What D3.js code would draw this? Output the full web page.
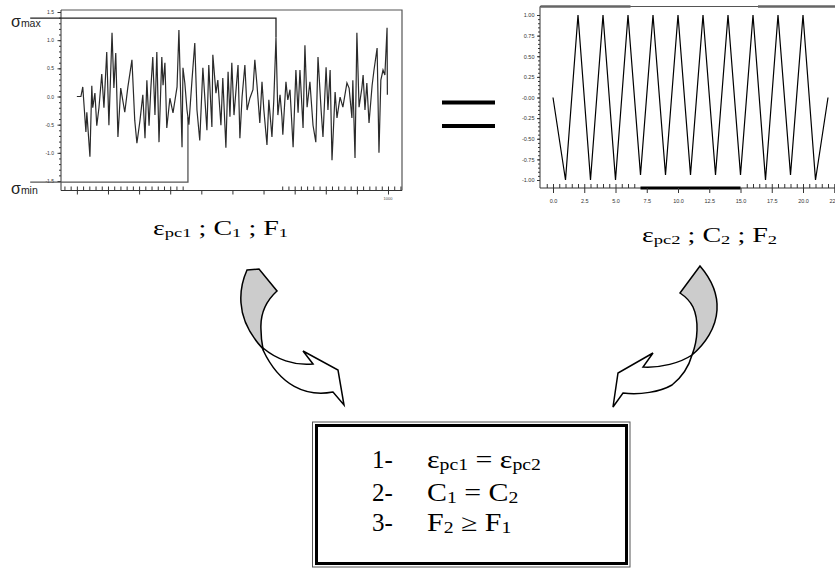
<!DOCTYPE html>
<html>
<head>
<meta charset="utf-8">
<script src="https://cdn.jsdelivr.net/npm/d3@7"></script>
<style>
body { margin: 0; background: #fff; }
svg { display: block; }
.tick text { font-family: "Liberation Sans", Arial, sans-serif; fill: #333; }
.tick line { stroke: #333; }
text { white-space: pre; }
</style>
</head>
<body>
<div id="chart"></div>
<script>
// random load history (left chart) : reversal position / stress
var loadX = [0, 13, 19, 29, 32, 42, 48, 51, 58, 64, 71, 80, 87, 96, 103, 113, 119, 125, 132, 141,
  154, 164, 177, 186, 193, 203, 212, 219, 225, 232, 238, 244, 251, 257, 264, 273, 277, 283, 289, 299,
  309, 322, 328, 338, 341, 347, 354, 360, 370, 379, 386, 395, 405, 418, 424, 434, 437, 447, 453, 463,
  469, 479, 486, 492, 498, 505, 518, 524, 531, 540, 547, 556, 566, 572, 579, 588, 595, 601, 611, 617,
  627, 633, 640, 646, 653, 659, 662, 672, 678, 685, 695, 704, 711, 717, 727, 733, 740, 749, 759, 768,
  775, 785, 791, 801, 807, 814, 820, 830, 836, 846, 855, 868, 875, 884, 887, 894, 900, 907, 916, 920,
  926, 932, 939, 949, 955, 965, 971, 977, 984, 990, 997, 998];
var loadY = [0, 0, 0.17, -0.63, -0.28, -1.07, 0.19, -0.2, 0.06, -0.52, -0.2, 0.4, -0.2, 0.79, -0.51, 1.13, 0.15, 0.77, -0.72, 0.15,
  -0.28, 0.17, 0.65, -0.42, -0.83, -0.42, 0.03, -0.74, 0.29, -0.52, 0.17, 0.7, -0.33, 0.79, -0.81, 0.7, 0.2, 0.6, -0.56, -0.03,
  -0.29, 0.17, 1.18, -0.9, 0.51, 0.24, -0.24, -0.5, 0.29, 0.95, -0.24, -0.78, 0.51, -0.6, 0.56, -0.54, 0.74, 0.06, 0.29, -0.51,
  0.33, -0.91, 0.44, -0.36, 0.6, -0.33, 0.56, -0.74, -0.01, 0.56, -0.24, -0.03, 0.12, 0.65, 0.2, -0.47, 0.26, -0.24, -0.86, -0.06,
  -0.72, -0.06, 1.05, -0.33, 0.03, -0.36, -0.68, 0.26, -0.06, 0.12, -0.9, 0.47, -0.29, 0.47, -0.56, 0.91, -0.19, 0.26, -0.51, -0.81,
  0.7, -0.24, -0.72, 0.52, -0.24, 0.47, -1.13, 0.08, -0.38, -0.01, -0.19, 0.24, 0.15, -0.38, 0.29, -1.09, 1.13, -0.19, 0.15, 0.38,
  -0.24, 0.24, -0.47, 0.2, 0.47, 0.86, -1.0, 0.29, 0.47, 0.38, 1.22, 0.03];
var sigmaMax = 1.39, sigmaMin = -1.52;
var sigmaStartX = -150;
var maxJoin = [640, 1.05];   // where the sigma max line meets the signal
var minJoin = [357, -0.37];
var leftYTicks = [1.5, 1.0, 0.5, 0.0, -0.5, -1.0, -1.5];
var leftYLabels = ["1.5", "1.0", "0.5", "0.0", "-0.5", "-1.0", "-1.5"];
var leftXTicks = [0, 100, 200, 300, 400, 500, 600, 700, 800, 900, 1000];
var leftXLabel = "1000";

// constant amplitude block (right chart)
var blockX = d3.range(0, 23);
var blockY = [0, -1, 1, -1, 1, -1, 1, -0.94, 1, -0.94, 1, -0.94, 1, -0.94, 1, -0.94, 1, -1, 1, -0.94, 1, -1, 0];
var rightYTicks = [1, 0.75, 0.5, 0.25, 0, -0.25, -0.5, -0.75, -1];
var rightYLabels = ["1.00", "0.75", "0.50", "0.25", "-0.00", "-0.25", "-0.50", "-0.75", "-1.00"];
var rightXTicks = [0, 2.5, 5, 7.5, 10, 12.5, 15, 17.5, 20, 22.5];
var rightXLabels = ["0.0", "2.5", "5.0", "7.5", "10.0", "12.5", "15.0", "17.5", "20.0", "22.5"];

var labelLeft = [["ε", 0], ["pc1", 1], [" ; C", 0], ["1", 1], [" ; F", 0], ["1", 1]];
var labelRight = [["ε", 0], ["pc2", 1], [" ; C", 0], ["2", 1], [" ; F", 0], ["2", 1]];
var boxNums = ["1-", "2-", "3-"];
var boxRows = [
  [["ε", 0], ["pc1", 1], [" = ε", 0], ["pc2", 1]],
  [["C", 0], ["1", 1], [" = C", 0], ["2", 1]],
  [["F", 0], ["2", 1], [" ≥ F", 0], ["1", 1]]
];

var W = 835, H = 569;
var svg = d3.select("#chart").append("svg").attr("width", W).attr("height", H);
var serif = '"Liberation Serif", "Times New Roman", serif';
var sans = '"Liberation Sans", Arial, sans-serif';

// ---------- left chart ----------
var xL = d3.scaleLinear().domain([-51, 1045]).range([61, 402]);
var yL = d3.scaleLinear().domain([-1.5, 1.5]).range([181, 12]);
var gl = svg.append("g");
var lTop = 10, lBottom = 190.5;

gl.append("path")
  .attr("d", "M" + xL.range()[0] + "," + lTop + "H" + xL.range()[1] + "V" + lBottom)
  .attr("fill", "none").attr("stroke", "#555").attr("stroke-width", 1.2);
gl.append("line").attr("x1", 61).attr("x2", 61).attr("y1", lTop).attr("y2", lBottom)
  .attr("stroke", "#333");
gl.append("line").attr("x1", 61).attr("x2", 402).attr("y1", lBottom).attr("y2", lBottom)
  .attr("stroke", "#333");

gl.append("g").attr("transform", "translate(61,0)")
  .call(d3.axisLeft(yL).tickValues(d3.range(-15, 16).map(function(d) { return d / 10; }))
    .tickSize(2).tickFormat(""))
  .call(function(g) { g.select(".domain").remove(); });
gl.append("g").attr("transform", "translate(61,0)")
  .call(d3.axisLeft(yL).tickValues(leftYTicks).tickSize(3.5).tickPadding(3.5)
    .tickFormat(function(d, i) { return leftYLabels[i]; }))
  .call(function(g) { g.select(".domain").remove(); })
  .selectAll("text").attr("font-size", 5);

gl.append("g").attr("transform", "translate(0," + lBottom + ")")
  .call(d3.axisBottom(xL).tickValues(leftXTicks).tickSize(4).tickFormat(""))
  .call(function(g) { g.select(".domain").remove(); });
gl.append("g").attr("transform", "translate(0," + lBottom + ")")
  .call(d3.axisTop(xL).tickValues(d3.range(-40, 1045, 20).filter(function(d) { return d < 357 || d > 640; }))
    .tickSize(4).tickFormat(""))
  .call(function(g) { g.select(".domain").remove(); });
gl.append("text").attr("x", xL(1000)).attr("y", 200).attr("text-anchor", "middle")
  .attr("font-family", sans).attr("font-size", 4).attr("fill", "#444").text(leftXLabel);

var lineL = d3.line().x(function(d) { return xL(d[0]); }).y(function(d) { return yL(d[1]); });
gl.append("path")
  .datum([[sigmaStartX, sigmaMax], [maxJoin[0], sigmaMax], maxJoin])
  .attr("d", lineL).attr("fill", "none").attr("stroke", "#222").attr("stroke-width", 1.3);
gl.append("path")
  .datum([[sigmaStartX, sigmaMin], [minJoin[0], sigmaMin], minJoin])
  .attr("d", lineL).attr("fill", "none").attr("stroke", "#555").attr("stroke-width", 1.3);
gl.append("path")
  .datum(loadX.map(function(x, i) { return [x, loadY[i]]; }))
  .attr("d", lineL).attr("fill", "none").attr("stroke", "#2a2a2a").attr("stroke-width", 1.2);

function sigmaLabel(y, sub) {
  var t = gl.append("text").attr("x", 11).attr("y", y).attr("font-family", sans).attr("fill", "#222");
  t.append("tspan").attr("font-size", 16).text("σ");
  t.append("tspan").attr("font-size", 10.5).text(sub);
}
sigmaLabel(27, "max");
sigmaLabel(194, "min");

// ---------- right chart ----------
var xR = d3.scaleLinear().domain([-1, 22.6]).range([540.5, 835.5]);
var yR = d3.scaleLinear().domain([-1, 1]).range([180, 15]);
var gr = svg.append("g");
var rTop = 6.5, rBottom = 188;

gr.append("line").attr("x1", 540).attr("x2", W).attr("y1", rTop).attr("y2", rTop)
  .attr("stroke", "#555").attr("stroke-width", 1);
gr.append("line").attr("x1", xR(-1)).attr("x2", xR(6.2)).attr("y1", rTop).attr("y2", rTop)
  .attr("stroke", "#666").attr("stroke-width", 2.5);
gr.append("line").attr("x1", xR(16.4)).attr("x2", W).attr("y1", rTop).attr("y2", rTop)
  .attr("stroke", "#666").attr("stroke-width", 2.5);
gr.append("line").attr("x1", 540).attr("x2", 540).attr("y1", rTop).attr("y2", rBottom)
  .attr("stroke", "#333");
gr.append("line").attr("x1", 540).attr("x2", W).attr("y1", rBottom).attr("y2", rBottom)
  .attr("stroke", "#333");
gr.append("line").attr("x1", xR(7)).attr("x2", xR(15)).attr("y1", rBottom).attr("y2", rBottom)
  .attr("stroke", "#000").attr("stroke-width", 3);

gr.append("g").attr("transform", "translate(540,0)")
  .call(d3.axisLeft(yR).tickValues(d3.range(-20, 21).map(function(d) { return d / 20; }))
    .tickSize(2).tickFormat(""))
  .call(function(g) { g.select(".domain").remove(); });
gr.append("g").attr("transform", "translate(540,0)")
  .call(d3.axisLeft(yR).tickValues(rightYTicks).tickSize(3).tickPadding(2.5)
    .tickFormat(function(d, i) { return rightYLabels[i]; }))
  .call(function(g) { g.select(".domain").remove(); })
  .selectAll("text").attr("font-size", 5.5);
gr.append("g").attr("transform", "translate(0," + rBottom + ")")
  .call(d3.axisBottom(xR).tickValues(rightXTicks).tickSize(5).tickPadding(6)
    .tickFormat(function(d, i) { return rightXLabels[i]; }))
  .call(function(g) { g.select(".domain").remove(); })
  .selectAll("text").attr("font-size", 5.5);
gr.append("g").attr("transform", "translate(0," + rBottom + ")")
  .call(d3.axisTop(xR).tickValues(d3.range(-0.5, 23, 0.5).filter(function(d) { return d < 7 || d > 15; }))
    .tickSize(4).tickFormat(""))
  .call(function(g) { g.select(".domain").remove(); });

gr.append("path")
  .datum(blockX.map(function(x, i) { return [x, blockY[i]]; }))
  .attr("d", d3.line().x(function(d) { return xR(d[0]); }).y(function(d) { return yR(d[1]); }))
  .attr("fill", "none").attr("stroke", "#000").attr("stroke-width", 1.2);

// ---------- equals sign ----------
svg.append("rect").attr("x", 442).attr("y", 100.5).attr("width", 53).attr("height", 4).attr("fill", "#000");
svg.append("rect").attr("x", 442).attr("y", 124).attr("width", 53).attr("height", 4).attr("fill", "#000");

// ---------- text with subscripts ----------
function subText(parent, parts, x, y, size, sx, sy) {
  var g = parent.append("g").attr("transform", "translate(" + x + "," + y + ") scale(" + sx + "," + sy + ")");
  var t = g.append("text").attr("font-family", serif).attr("font-size", size).attr("fill", "#000");
  var prev = 0;
  parts.forEach(function(p) {
    var shift = size * 0.1;
    var dy = p[1] && !prev ? shift : (!p[1] && prev ? -shift : 0);
    t.append("tspan").attr("dy", dy).attr("font-size", p[1] ? size * 0.66 : size).text(p[0]);
    prev = p[1];
  });
}
subText(svg, labelLeft, 153, 235, 24, 1.17, 0.84);
subText(svg, labelRight, 642, 242, 24, 1.17, 0.84);

// ---------- arrows ----------
var arrows = svg.append("g").attr("stroke", "#000").attr("stroke-width", 1.5).attr("stroke-linejoin", "miter");
arrows.append("path").attr("fill", "#fff")
  .attr("d", "M263,348 C276,359 294,366 313,364 L303,351 L338,370 L344,405 L333,392 C306,397 280,386 263,350 Z");
arrows.append("path").attr("fill", "#cccccc")
  .attr("d", "M247,270 L259,269 L277,291 C266,301 260,315 261,330 C261,338 262,344 263,349 C251,336 242,320 241,303 C240,290 243,279 247,270 Z");
arrows.append("path").attr("fill", "#fff")
  .attr("d", "M692,355 C680,363 661,368 643,367 L653,353 L618,373 L613,407 L623,393 C640,395 660,392 672,385 C682,377 689,366 692,355 Z");
arrows.append("path").attr("fill", "#cccccc")
  .attr("d", "M680,293 L700,266 C712,280 718,295 717,310 C716,328 705,344 692,355 C698,340 699,320 693,307 C690,301 686,297 680,293 Z");

// ---------- conditions box ----------
svg.append("rect").attr("x", 312.5).attr("y", 422).attr("width", 317.5).attr("height", 145)
  .attr("fill", "#fff").attr("stroke", "#555").attr("stroke-width", 1);
svg.append("rect").attr("x", 316.5).attr("y", 425.5).attr("width", 310).attr("height", 138)
  .attr("fill", "none").attr("stroke", "#000").attr("stroke-width", 3);
var rowY = [468, 501, 531];
boxNums.forEach(function(n, i) {
  svg.append("text").attr("x", 372).attr("y", rowY[i]).attr("font-family", serif)
    .attr("font-size", 25).text(n);
  subText(svg, boxRows[i], 427, rowY[i], 26, 1.15, 0.93);
});
</script>
</body>
</html>
